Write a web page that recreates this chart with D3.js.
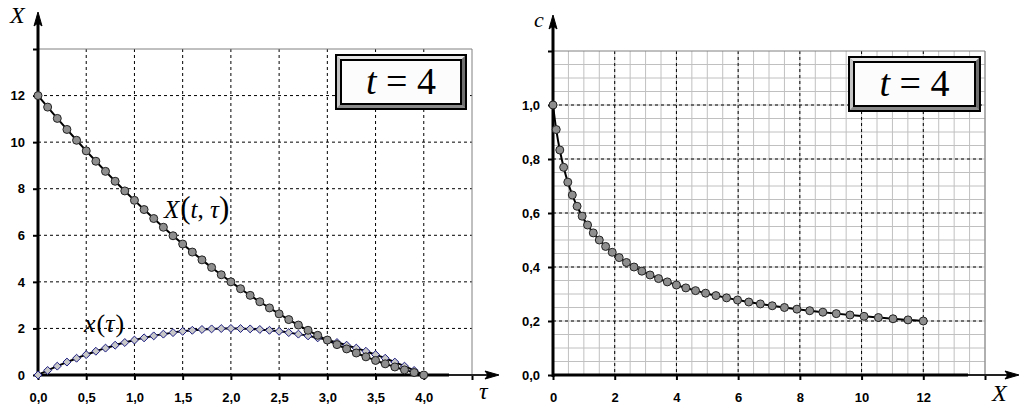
<!DOCTYPE html>
<html>
<head>
<meta charset="utf-8">
<script src="https://cdn.jsdelivr.net/npm/d3@7/dist/d3.min.js"></script>
<style>
  html, body { margin: 0; padding: 0; background: #fff; }
  svg { display: block; }
  .tick text { font-family: "Liberation Sans", Arial, sans-serif; font-weight: bold; font-size: 13px; fill: #000; }
  .mathlbl { font-family: "Liberation Serif", "Times New Roman", serif; fill: #000; }
</style>
</head>
<body>
<svg id="chart" width="1028" height="416"></svg>
<script>
// ---------------- DATA ----------------
const tau = [0,0.1,0.2,0.3,0.4,0.5,0.6,0.7,0.8,0.9,1.0,1.1,1.2,1.3,1.4,1.5,1.6,1.7,1.8,1.9,2.0,
             2.1,2.2,2.3,2.4,2.5,2.6,2.7,2.8,2.9,3.0,3.1,3.2,3.3,3.4,3.5,3.6,3.7,3.8,3.9,4.0];
// X(t, tau) for t = 4
const bigX = [12,11.505,11.02,10.545,10.08,9.625,9.18,8.745,8.32,7.905,7.5,7.105,6.72,6.345,5.98,5.625,
              5.28,4.945,4.62,4.305,4,3.705,3.42,3.145,2.88,2.625,2.38,2.145,1.92,1.705,1.5,1.305,1.12,
              0.945,0.78,0.625,0.48,0.345,0.22,0.105,0];
// x(tau)
const smallX = [0,0.195,0.38,0.555,0.72,0.875,1.02,1.155,1.28,1.395,1.5,1.595,1.68,1.755,1.82,1.875,1.92,
                1.955,1.98,1.995,2,1.995,1.98,1.955,1.92,1.875,1.82,1.755,1.68,1.595,1.5,1.395,1.28,1.155,
                1.02,0.875,0.72,0.555,0.38,0.195,0];
// c as function of X
const cVals = [0.2,0.2041,0.2083,0.2128,0.2174,0.2222,0.2273,0.2326,0.2381,0.2439,0.25,0.2564,0.2632,
               0.2703,0.2778,0.2857,0.2941,0.3030,0.3125,0.3226,0.3333,0.3448,0.3571,0.3704,0.3846,0.4,
               0.4167,0.4348,0.4545,0.4762,0.5,0.5263,0.5556,0.5882,0.625,0.6667,0.7143,0.7692,0.8333,
               0.9091,1.0];

const leftXTicks = [0,0.5,1,1.5,2,2.5,3,3.5,4];
const leftXLabels = ["0,0","0,5","1,0","1,5","2,0","2,5","3,0","3,5","4,0"];
const leftYTicks = [0,2,4,6,8,10,12];
const leftYLabels = ["0","2","4","6","8","10","12"];
const rightXTicks = [0,2,4,6,8,10,12];
const rightXLabels = ["0","2","4","6","8","10","12"];
const rightYTicks = [0,0.2,0.4,0.6,0.8,1.0];
const rightYLabels = ["0,0","0,2","0,4","0,6","0,8","1,0"];
const boxText = ["t", " = 4"];

// ---------------- DRAW ----------------
const svg = d3.select("#chart");

function arrowHead(g, x, y, dir) {
  const p = dir === "up"
    ? [[x, y], [x - 4, y + 14], [x, y + 11], [x + 4, y + 14]]
    : [[x, y], [x - 14, y - 4], [x - 11, y], [x - 14, y + 4]];
  g.append("path").attr("d", "M" + p.map(d => d.join(",")).join("L") + "Z")
    .attr("fill", "#000").attr("stroke", "#000").attr("stroke-width", 1);
}

function bevelBox(g, x0, y0, w, h, cx, baseline) {
  const x1 = x0 + w, y1 = y0 + h, b = 5;
  g.append("rect").attr("x", x0).attr("y", y0).attr("width", w).attr("height", h)
    .attr("fill", "#9a9a9a").attr("stroke", "#000").attr("stroke-width", 2);
  const poly = (pts, c) => g.append("polygon").attr("points", pts.map(p => p.join(",")).join(" ")).attr("fill", c);
  poly([[x0+1,y0+1],[x1-1,y0+1],[x1-b,y0+b],[x0+b,y0+b]], "#e6e6e6");
  poly([[x0+1,y0+1],[x0+b,y0+b],[x0+b,y1-b],[x0+1,y1-1]], "#c4c4c4");
  poly([[x1-1,y0+1],[x1-1,y1-1],[x1-b,y1-b],[x1-b,y0+b]], "#6e6e6e");
  poly([[x0+1,y1-1],[x1-1,y1-1],[x1-b,y1-b],[x0+b,y1-b]], "#8a8a8a");
  g.append("rect").attr("x", x0 + b).attr("y", y0 + b).attr("width", w - 2*b).attr("height", h - 2*b)
    .attr("fill", "#fcfcfc").attr("stroke", "#000").attr("stroke-width", 2);
  const t = g.append("text").attr("class", "mathlbl").attr("x", cx).attr("y", baseline)
    .attr("text-anchor", "middle").style("font-size", "38px");
  t.append("tspan").style("font-style", "italic").text(boxText[0]);
  t.append("tspan").attr("xml:space", "preserve").style("white-space", "pre").text(boxText[1]);
}

// ===== LEFT CHART =====
{
  const g = svg.append("g");
  const x = d3.scaleLinear().domain([0, 4.5]).range([38, 472]);
  const y = d3.scaleLinear().domain([0, 14]).range([375, 49]);

  g.append("g").selectAll("line").data(leftXTicks.filter(d => d > 0)).join("line")
    .attr("x1", d => x(d)).attr("x2", d => x(d)).attr("y1", y(14)).attr("y2", y(0))
    .attr("stroke", "#000").attr("stroke-width", 1).attr("stroke-dasharray", "3,3");
  g.append("g").selectAll("line").data(leftYTicks.filter(d => d > 0)).join("line")
    .attr("x1", x(0)).attr("x2", x(4.5)).attr("y1", d => y(d)).attr("y2", d => y(d))
    .attr("stroke", "#000").attr("stroke-width", 1).attr("stroke-dasharray", "3,3");
  g.append("path").attr("d", `M${x(0)},${y(14)}H${x(4.5)}V${y(0)}`)
    .attr("fill", "none").attr("stroke", "#808080").attr("stroke-width", 1);

  const xa = g.append("g").attr("transform", `translate(0,${y(0)})`)
    .call(d3.axisBottom(x).tickValues(leftXTicks.concat([4.5])).tickSize(5).tickPadding(13)
      .tickFormat((d, i) => i < leftXLabels.length ? leftXLabels[i] : ""));
  xa.select(".domain").remove();
  xa.selectAll(".tick line").attr("stroke", "#000").attr("stroke-width", 2);
  const ya = g.append("g").attr("transform", `translate(${x(0)},0)`)
    .call(d3.axisLeft(y).tickValues(leftYTicks.concat([14])).tickSize(5).tickPadding(8)
      .tickFormat((d, i) => i < leftYLabels.length ? leftYLabels[i] : ""));
  ya.select(".domain").remove();
  ya.selectAll(".tick line").attr("stroke", "#000").attr("stroke-width", 2);

  g.append("line").attr("x1", x(0)).attr("x2", x(0)).attr("y1", y(0) + 2).attr("y2", 22)
    .attr("stroke", "#000").attr("stroke-width", 3);
  arrowHead(g, x(0), 12, "up");
  g.append("line").attr("x1", x(0) - 1).attr("x2", 449).attr("y1", y(0)).attr("y2", y(0))
    .attr("stroke", "#000").attr("stroke-width", 3);
  g.append("line").attr("x1", 449).attr("x2", 488).attr("y1", y(0)).attr("y2", y(0))
    .attr("stroke", "#222").attr("stroke-width", 2);
  arrowHead(g, 499, y(0), "right");

  const line = d3.line().x(d => x(d[0])).y(d => y(d[1])).curve(d3.curveCatmullRom);
  g.append("path").datum(tau.map((t, i) => [t, bigX[i]])).attr("d", line)
    .attr("fill", "none").attr("stroke", "#000").attr("stroke-width", 2);
  g.append("path").datum(tau.map((t, i) => [t, smallX[i]])).attr("d", line)
    .attr("fill", "none").attr("stroke", "#000").attr("stroke-width", 2);

  g.append("g").selectAll("path").data(tau.map((t, i) => [t, smallX[i]])).join("path")
    .attr("d", d3.symbol(d3.symbolDiamond2, 40))
    .attr("transform", d => `translate(${x(d[0])},${y(d[1])})`)
    .attr("fill", "#c8c8c8").attr("stroke", "#1a1a80").attr("stroke-width", 1);
  g.append("g").selectAll("circle").data(tau.map((t, i) => [t, bigX[i]])).join("circle")
    .attr("cx", d => x(d[0])).attr("cy", d => y(d[1])).attr("r", 4)
    .attr("fill", "#8e8e8e").attr("stroke", "#222").attr("stroke-width", 1);

  g.append("text").attr("class", "mathlbl").attr("x", 10).attr("y", 23)
    .style("font-size", "24px").style("font-style", "italic").text("X");
  g.append("text").attr("class", "mathlbl").attr("x", 479).attr("y", 399)
    .style("font-size", "24px").style("font-style", "italic").text("τ");

  const lbl = g.append("text").attr("class", "mathlbl").attr("x", 164).attr("y", 218).style("font-size", "25px");
  lbl.append("tspan").style("font-style", "italic").text("X");
  lbl.append("tspan").style("font-size", "31px").attr("dx", 1).text("(");
  lbl.append("tspan").style("font-style", "italic").text("t");
  lbl.append("tspan").text(", ");
  lbl.append("tspan").style("font-style", "italic").text("τ");
  lbl.append("tspan").style("font-size", "31px").text(")");

  const lbl2 = g.append("text").attr("class", "mathlbl").attr("x", 84).attr("y", 332).style("font-size", "26px");
  lbl2.append("tspan").style("font-style", "italic").text("x");
  lbl2.append("tspan").attr("dx", 1).text("(");
  lbl2.append("tspan").style("font-style", "italic").text("τ");
  lbl2.append("tspan").attr("dx", 1).text(")");

  bevelBox(g, 336, 55, 130, 54, 401, 94);
}

// ===== RIGHT CHART =====
{
  const g = svg.append("g");
  const x = d3.scaleLinear().domain([0, 14]).range([553, 985]);
  const y = d3.scaleLinear().domain([0, 1.2]).range([375, 51]);

  g.append("g").selectAll("line").data(d3.range(1, 29).map(i => i * 0.5)).join("line")
    .attr("x1", d => x(d)).attr("x2", d => x(d)).attr("y1", y(1.2)).attr("y2", y(0))
    .attr("stroke", "#c0c0c0").attr("stroke-width", 1);
  g.append("g").selectAll("line").data(d3.range(1, 24).map(i => i * 0.05)).join("line")
    .attr("x1", x(0)).attr("x2", x(14)).attr("y1", d => y(d)).attr("y2", d => y(d))
    .attr("stroke", "#c0c0c0").attr("stroke-width", 1);
  g.append("g").selectAll("line").data(rightXTicks.filter(d => d > 0)).join("line")
    .attr("x1", d => x(d)).attr("x2", d => x(d)).attr("y1", y(1.2)).attr("y2", y(0))
    .attr("stroke", "#000").attr("stroke-width", 1).attr("stroke-dasharray", "3,3");
  g.append("g").selectAll("line").data(rightYTicks.filter(d => d > 0)).join("line")
    .attr("x1", x(0)).attr("x2", x(14)).attr("y1", d => y(d)).attr("y2", d => y(d))
    .attr("stroke", "#000").attr("stroke-width", 1).attr("stroke-dasharray", "3,3");
  g.append("path").attr("d", `M${x(0)},${y(1.2)}H${x(14)}V${y(0)}`)
    .attr("fill", "none").attr("stroke", "#808080").attr("stroke-width", 1);

  const xa = g.append("g").attr("transform", `translate(0,${y(0)})`)
    .call(d3.axisBottom(x).tickValues(rightXTicks.concat([14])).tickSize(5).tickPadding(13)
      .tickFormat((d, i) => i < rightXLabels.length ? rightXLabels[i] : ""));
  xa.select(".domain").remove();
  xa.selectAll(".tick line").attr("stroke", "#000").attr("stroke-width", 2);
  const ya = g.append("g").attr("transform", `translate(${x(0)},0)`)
    .call(d3.axisLeft(y).tickValues(rightYTicks.concat([1.2])).tickSize(5).tickPadding(8)
      .tickFormat((d, i) => i < rightYLabels.length ? rightYLabels[i] : ""));
  ya.select(".domain").remove();
  ya.selectAll(".tick line").attr("stroke", "#000").attr("stroke-width", 2);

  g.append("line").attr("x1", x(0)).attr("x2", x(0)).attr("y1", y(0) + 2).attr("y2", 26)
    .attr("stroke", "#000").attr("stroke-width", 3);
  arrowHead(g, x(0), 15, "up");
  g.append("line").attr("x1", x(0) - 1).attr("x2", 968).attr("y1", y(0)).attr("y2", y(0))
    .attr("stroke", "#000").attr("stroke-width", 3);
  g.append("line").attr("x1", 968).attr("x2", 1008).attr("y1", y(0)).attr("y2", y(0))
    .attr("stroke", "#222").attr("stroke-width", 2);
  arrowHead(g, 1019, y(0), "right");

  const line = d3.line().x(d => x(d[0])).y(d => y(d[1])).curve(d3.curveCatmullRom);
  const pts = bigX.map((v, i) => [v, cVals[i]]);
  g.append("path").datum(pts).attr("d", line)
    .attr("fill", "none").attr("stroke", "#000").attr("stroke-width", 2);
  g.append("g").selectAll("circle").data(pts).join("circle")
    .attr("cx", d => x(d[0])).attr("cy", d => y(d[1])).attr("r", 4)
    .attr("fill", "#8e8e8e").attr("stroke", "#222").attr("stroke-width", 1);

  g.append("text").attr("class", "mathlbl").attr("x", 534).attr("y", 27)
    .style("font-size", "22px").style("font-style", "italic").text("c");
  g.append("text").attr("class", "mathlbl").attr("x", 992).attr("y", 401)
    .style("font-size", "24px").style("font-style", "italic").text("X");

  bevelBox(g, 849, 57, 131, 54, 914.5, 96);
}
</script>
</body>
</html>
